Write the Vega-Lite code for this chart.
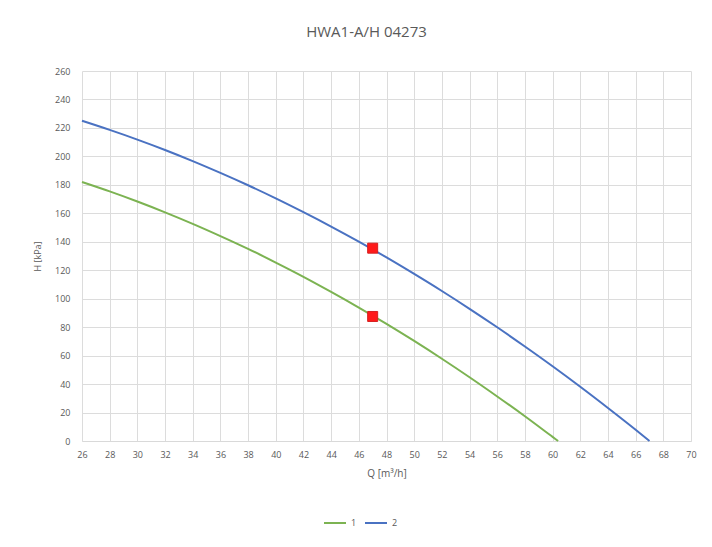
{
  "$schema": "https://vega.github.io/schema/vega-lite/v6.json",
  "width": 609,
  "height": 370,
  "autosize": "none",
  "padding": {"left": 82, "top": 71, "right": 21, "bottom": 106},
  "background": "white",
  "config": {"view": {"stroke": null}, "font": "Open Sans"},
  "title": {"text": "HWA1-A/H 04273", "fontSize": 15, "fontWeight": "normal", "color": "#595959", "offset": 27, "dx": -20},
  "datasets": {
    "curves": [
      {"series": "1", "Q": 26, "H": 182},
      {"series": "1", "Q": 28, "H": 175.4},
      {"series": "1", "Q": 30, "H": 168.3},
      {"series": "1", "Q": 32, "H": 160.7},
      {"series": "1", "Q": 34, "H": 152.6},
      {"series": "1", "Q": 36, "H": 144.0},
      {"series": "1", "Q": 38, "H": 135.0},
      {"series": "1", "Q": 40, "H": 125.4},
      {"series": "1", "Q": 42, "H": 115.4},
      {"series": "1", "Q": 44, "H": 104.8},
      {"series": "1", "Q": 46, "H": 93.8},
      {"series": "1", "Q": 48, "H": 82.3},
      {"series": "1", "Q": 50, "H": 70.3},
      {"series": "1", "Q": 52, "H": 57.8},
      {"series": "1", "Q": 54, "H": 44.8},
      {"series": "1", "Q": 56, "H": 31.3},
      {"series": "1", "Q": 58, "H": 17.4},
      {"series": "1", "Q": 60, "H": 2.9},
      {"series": "1", "Q": 60.4, "H": 0},
      {"series": "2", "Q": 26, "H": 225},
      {"series": "2", "Q": 28, "H": 218.6},
      {"series": "2", "Q": 30, "H": 211.8},
      {"series": "2", "Q": 32, "H": 204.5},
      {"series": "2", "Q": 34, "H": 196.7},
      {"series": "2", "Q": 36, "H": 188.4},
      {"series": "2", "Q": 38, "H": 179.7},
      {"series": "2", "Q": 40, "H": 170.5},
      {"series": "2", "Q": 42, "H": 160.8},
      {"series": "2", "Q": 44, "H": 150.7},
      {"series": "2", "Q": 46, "H": 140.1},
      {"series": "2", "Q": 48, "H": 129.0},
      {"series": "2", "Q": 50, "H": 117.4},
      {"series": "2", "Q": 52, "H": 105.4},
      {"series": "2", "Q": 54, "H": 92.9},
      {"series": "2", "Q": 56, "H": 79.9},
      {"series": "2", "Q": 58, "H": 66.4},
      {"series": "2", "Q": 60, "H": 52.5},
      {"series": "2", "Q": 62, "H": 38.1},
      {"series": "2", "Q": 64, "H": 23.2},
      {"series": "2", "Q": 66, "H": 7.9},
      {"series": "2", "Q": 67, "H": 0}
    ],
    "points": [
      {"series": "1", "Q": 47, "H": 87.5},
      {"series": "2", "Q": 47, "H": 135.5}
    ]
  },
  "encoding": {
    "x": {
      "field": "Q", "type": "quantitative",
      "scale": {"domain": [26, 70], "nice": false, "zero": false},
      "axis": {
        "values": [26,28,30,32,34,36,38,40,42,44,46,48,50,52,54,56,58,60,62,64,66,68,70],
        "grid": true, "gridColor": "#dcdcdc", "gridWidth": 1,
        "domain": true, "domainColor": "#d9d9d9",
        "ticks": false, "labelColor": "#595959", "labelFontSize": 9, "labelPadding": 9,
        "labelFlush": false, "labelOverlap": false, "labelBound": false,
        "title": "Q [m³/h]", "titleFontWeight": "normal", "titleFontSize": 10,
        "titleColor": "#595959", "titlePadding": 9
      }
    },
    "y": {
      "field": "H", "type": "quantitative",
      "scale": {"domain": [0, 260], "nice": false},
      "axis": {
        "values": [0,20,40,60,80,100,120,140,160,180,200,220,240,260],
        "grid": true, "gridColor": "#dcdcdc", "gridWidth": 1,
        "domain": false, "ticks": false,
        "labelColor": "#595959", "labelFontSize": 9, "labelPadding": 12,
        "labelFlush": false, "labelOverlap": false, "labelBound": false,
        "title": "H [kPa]", "titleFontWeight": "normal", "titleFontSize": 9,
        "titleColor": "#595959", "titlePadding": 12
      }
    }
  },
  "layer": [
    {
      "data": {"name": "curves"},
      "mark": {"type": "line", "strokeWidth": 2, "interpolate": "monotone"},
      "encoding": {
        "color": {
          "field": "series", "type": "nominal",
          "scale": {"domain": ["1", "2"], "range": ["#7cb352", "#4a72c2"]},
          "legend": {
            "orient": "none", "legendX": 241, "legendY": 440, "direction": "horizontal",
            "title": null, "symbolType": "stroke", "symbolSize": 484, "symbolStrokeWidth": 2,
            "labelColor": "#595959", "labelFontSize": 9, "columnPadding": 4, "labelOffset": 4
          }
        },
        "order": {"field": "Q", "type": "quantitative"}
      }
    },
    {
      "data": {"name": "points"},
      "mark": {"type": "square", "filled": true, "color": "#ff1a1a", "size": 100, "stroke": "#d62020", "strokeWidth": 1, "opacity": 1}
    }
  ]
}
